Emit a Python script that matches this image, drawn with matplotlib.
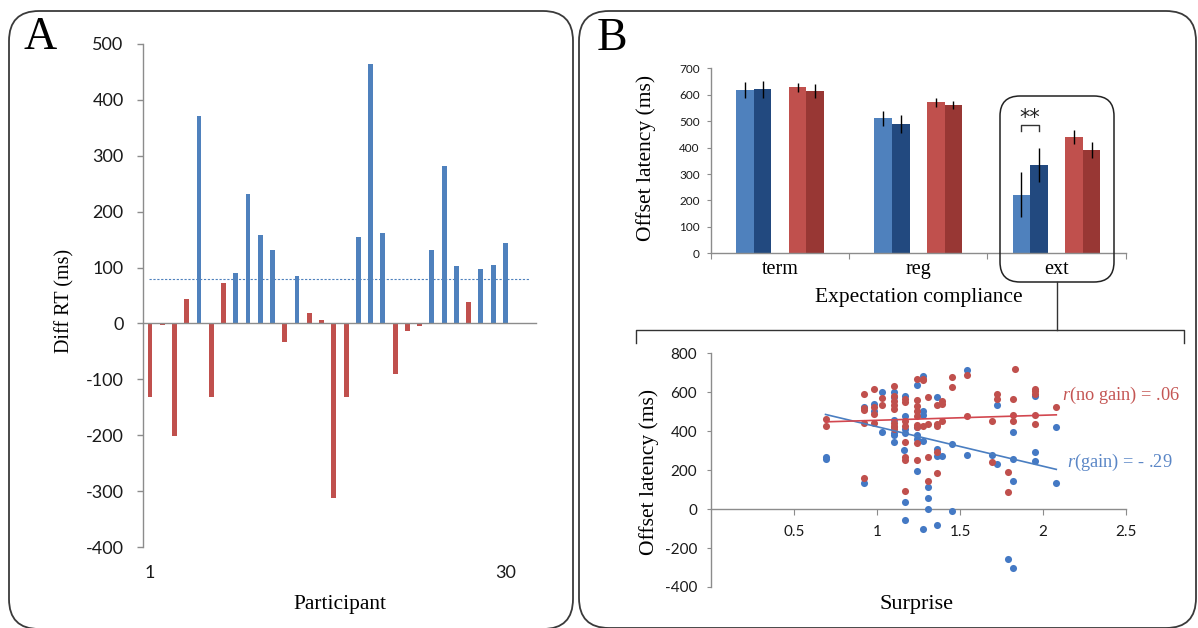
import numpy as np
import matplotlib
matplotlib.use('Agg')
import matplotlib.pyplot as plt
from matplotlib.patches import FancyBboxPatch
import matplotlib.transforms as mtransforms

plt.rcParams['font.family'] = ['Lato', 'DejaVu Sans']
plt.rcParams['axes.unicode_minus'] = False
plt.rcParams['mathtext.fontset'] = 'custom'
plt.rcParams['mathtext.rm'] = 'Liberation Serif'
plt.rcParams['mathtext.it'] = 'Liberation Serif:italic'

SERIF = 'Liberation Serif'
BLUE = '#4F81BD'
DARK_BLUE = '#22497F'
RED = '#C0504D'
DARK_RED = '#983734'
SPINE = '#8C8C8C'

# ---- panel A: per-participant difference in RT ----
participants = list(range(1, 31))
diff_rt = [-132, -2, -202, 43, 371, -132, 73, 91, 231, 158,
           132, -34, 84, 18, 7, -312, -132, 154, 465, 162,
           -90, -14, -5, 131, 282, 103, 39, 97, 104, 144]
diff_threshold = 79

# ---- panel B top: offset latency per expectation compliance ----
conditions = ['term', 'reg', 'ext']
gain_light = [618, 511, 222]
gain_light_err = [30, 28, 85]
gain_dark = [620, 489, 334]
gain_dark_err = [32, 33, 66]
nogain_light = [628, 571, 441]
nogain_light_err = [16, 17, 26]
nogain_dark = [613, 561, 390]
nogain_dark_err = [27, 16, 30]

# ---- panel B bottom: surprise vs offset latency ----
gain_surprise = [0.69, 0.69, 0.92, 0.92, 0.98, 0.98, 1.03, 1.03,
                 1.10, 1.10, 1.10, 1.10, 1.10, 1.10, 1.10,
                 1.17, 1.17, 1.17, 1.17, 1.17, 1.17, 1.16,
                 1.24, 1.24, 1.24, 1.24, 1.24,
                 1.28, 1.28, 1.28, 1.28, 1.31, 1.31, 1.31, 1.28,
                 1.36, 1.36, 1.36, 1.36, 1.39, 1.45, 1.45, 1.54, 1.54,
                 1.69, 1.72, 1.72, 1.79, 1.82, 1.82, 1.82, 1.82,
                 1.95, 1.95, 1.95, 2.08, 2.08]
gain_latency = [268, 259, 525, 134, 541, 505, 601, 395,
                601, 575, 460, 420, 391, 381, 343,
                580, 477, 412, 391, 38, -57, 306,
                639, 420, 378, 361, 197,
                683, 506, 481, 352, 112, 55, 0, -100,
                575, 309, 271, -84, 271, 335, -12, 712, 278,
                278, 532, 232, -254, 398, 258, 146, -300,
                583, 292, 249, 421, 132]

nogain_surprise = [0.69, 0.69, 0.92, 0.92, 0.92, 0.92, 0.92,
                   0.98, 0.98, 0.98, 0.98, 1.03, 1.03,
                   1.10, 1.10, 1.10, 1.10, 1.10, 1.10, 1.10, 1.10,
                   1.17, 1.17, 1.17, 1.17, 1.17, 1.17, 1.17, 1.17,
                   1.24, 1.24, 1.24, 1.24, 1.24, 1.24, 1.24, 1.24, 1.24,
                   1.28, 1.28, 1.28, 1.31, 1.31, 1.31, 1.31,
                   1.36, 1.36, 1.36, 1.36, 1.36, 1.39, 1.39, 1.39,
                   1.45, 1.45, 1.54, 1.54, 1.69, 1.69, 1.72, 1.72,
                   1.79, 1.79, 1.83, 1.82, 1.82, 1.82,
                   1.95, 1.95, 1.95, 1.95, 1.95, 2.08]
nogain_latency = [465, 427, 590, 517, 510, 440, 160,
                  615, 524, 489, 441, 570, 536,
                  632, 580, 553, 532, 512, 443, 429, 412,
                  563, 549, 450, 429, 343, 266, 252, 94,
                  670, 558, 529, 506, 477, 434, 420, 340, 252,
                  670, 661, 429, 575, 438, 266, 146,
                  536, 438, 429, 295, 184, 553, 540, 450,
                  678, 627, 687, 476, 450, 240, 592, 567,
                  189, 86, 718, 563, 481, 450,
                  615, 604, 592, 484, 438, 524]

fit_surprise = [0.69, 2.08]
gain_fit = [486, 204]
nogain_fit = [448, 484]

fig = plt.figure(figsize=(11.98, 6.28), dpi=100)
W, H = 1198, 628


def px_axes(x0, y0, x1, y1):
    # axes from pixel box (top-left origin)
    return fig.add_axes([x0 / W, 1 - y1 / H, (x1 - x0) / W, (y1 - y0) / H])


def style_spines(ax):
    for s in ['top', 'right']:
        ax.spines[s].set_visible(False)
    for s in ['left', 'bottom']:
        ax.spines[s].set_color(SPINE)
        ax.spines[s].set_linewidth(1)
    ax.patch.set_alpha(0)


# ---------- panel A ----------
ax_a = px_axes(143, 44, 536, 547)
style_spines(ax_a)
colors_a = [BLUE if v > diff_threshold else RED for v in diff_rt]
ax_a.bar(participants, diff_rt, width=0.4, color=colors_a, zorder=2)
ax_a.hlines(diff_threshold, participants[0] - 0.1, participants[-1] + 2.0,
            colors=BLUE, linestyles=(0, (2, 1.5)), linewidth=0.8, zorder=1)
ax_a.set_xlim(0.43, 32.5)
ax_a.set_ylim(-400, 500)
ax_a.spines['bottom'].set_position(('data', 0))
ax_a.set_yticks(range(-400, 501, 100))
ax_a.tick_params(axis='y', length=4, width=1, color=SPINE, pad=10,
                 labelsize=13, labelcolor='#1a1a1a')
ax_a.tick_params(axis='x', length=0, labelbottom=False)
trans_a = mtransforms.blended_transform_factory(ax_a.transData, ax_a.transAxes)
for p in (participants[0], participants[-1]):
    ax_a.text(p, -0.052, str(p), transform=trans_a, ha='center', va='center',
              fontsize=13, color='#1a1a1a')
ax_a.text(0.5, -0.115, 'Participant', transform=ax_a.transAxes, ha='center',
          va='center', fontsize=15.5, family=SERIF)
ax_a.text(-0.198, 0.49, 'Diff RT (ms)', transform=ax_a.transAxes, rotation=90,
          ha='center', va='center', fontsize=14.5, family=SERIF)

# ---------- panel B top ----------
ax_b1 = px_axes(711, 68.3, 1125.7, 253.3)
style_spines(ax_b1)
w = 0.127
centers = np.arange(len(conditions)) + 0.5
err_kw = dict(ecolor='black', elinewidth=1, capsize=0)
ax_b1.bar(centers - 2 * w, gain_light, w, yerr=gain_light_err, color=BLUE, error_kw=err_kw)
ax_b1.bar(centers - w, gain_dark, w, yerr=gain_dark_err, color=DARK_BLUE, error_kw=err_kw)
ax_b1.bar(centers + w, nogain_light, w, yerr=nogain_light_err, color=RED, error_kw=err_kw)
ax_b1.bar(centers + 2 * w, nogain_dark, w, yerr=nogain_dark_err, color=DARK_RED, error_kw=err_kw)
ax_b1.set_xlim(0, len(conditions))
ax_b1.set_ylim(0, 700)
ax_b1.set_yticks(range(0, 701, 100))
ax_b1.set_xticks(np.arange(len(conditions) + 1))
ax_b1.tick_params(axis='x', length=4, color=SPINE, labelbottom=False)
ax_b1.tick_params(axis='y', length=3, color=SPINE, pad=5, labelsize=8.5,
                  labelcolor='#1a1a1a')
trans_b1 = mtransforms.blended_transform_factory(ax_b1.transData, ax_b1.transAxes)
for c, name in zip(centers, conditions):
    ax_b1.text(c, -0.085, name, transform=trans_b1, ha='center', va='center',
               fontsize=14.5, family=SERIF)
ax_b1.text(0.5, -0.24, 'Expectation compliance', transform=ax_b1.transAxes,
           ha='center', va='center', fontsize=15.5, family=SERIF)
ax_b1.text(-0.157, 0.515, 'Offset latency (ms)', transform=ax_b1.transAxes,
           rotation=90, ha='center', va='center', fontsize=15.5, family=SERIF)
# significance bracket for ext gain pair
bx1, bx2 = centers[2] - 2 * w, centers[2] - w
ax_b1.plot([bx1, bx1, bx2, bx2], [463, 485, 485, 463], color='#333333', lw=1)
ax_b1.text((bx1 + bx2) / 2, 512, '**', ha='center', va='center', fontsize=15,
           family='DejaVu Sans', color='#222222')

# ---------- panel B bottom ----------
ax_b2 = px_axes(711, 353.3, 1126, 587)
style_spines(ax_b2)
ax_b2.scatter(gain_surprise, gain_latency, s=26, color='#4479C4', zorder=3, linewidths=0)
ax_b2.scatter(nogain_surprise, nogain_latency, s=26, color=RED, zorder=3, linewidths=0)
ax_b2.plot(fit_surprise, gain_fit, color='#4A7EC1', lw=1.2, zorder=4)
ax_b2.plot(fit_surprise, nogain_fit, color='#D2474F', lw=1.2, zorder=4)
ax_b2.set_xlim(0, 2.5)
ax_b2.set_ylim(-400, 800)
ax_b2.spines['bottom'].set_position(('data', 0))
ax_b2.set_xticks([0.5, 1, 1.5, 2, 2.5])
ax_b2.set_xticklabels(['0.5', '1', '1.5', '2', '2.5'])
ax_b2.set_yticks(range(-400, 801, 200))
ax_b2.tick_params(axis='x', length=4, color=SPINE, pad=7.5, labelsize=11,
                  labelcolor='#1a1a1a')
ax_b2.tick_params(axis='y', length=3, color=SPINE, pad=7, labelsize=11,
                  labelcolor='#1a1a1a')
ax_b2.text(0.494, -0.077, 'Surprise', transform=ax_b2.transAxes, ha='center',
           va='center', fontsize=16, family=SERIF)
ax_b2.text(-0.149, 0.492, 'Offset latency (ms)', transform=ax_b2.transAxes,
           rotation=90, ha='center', va='center', fontsize=15.5, family=SERIF)
ax_b2.text(2.115, 586, r'$\it{r}$(no gain) = .06', ha='left', va='center',
           fontsize=13.2, family=SERIF, color='#C45553', clip_on=False)
ax_b2.text(2.145, 241, r'$\it{r}$(gain) = - .29', ha='left', va='center',
           fontsize=13.2, family=SERIF, color='#5A86C6', clip_on=False)

# ---------- overlay: frames, letters, connectors ----------
ax_o = fig.add_axes([0, 0, 1, 1], zorder=10)
ax_o.set_xlim(0, W)
ax_o.set_ylim(H, 0)
ax_o.axis('off')
ax_o.patch.set_alpha(0)
frame_kw = dict(boxstyle='round,pad=0,rounding_size=30', fill=False,
                edgecolor='#3a3a3a', linewidth=1.3)
ax_o.add_patch(FancyBboxPatch((9, 11), 564, 618, **frame_kw))
ax_o.add_patch(FancyBboxPatch((579, 11), 617, 617, **frame_kw))
ax_o.add_patch(FancyBboxPatch((1000, 96), 114, 186, boxstyle='round,pad=0,rounding_size=20',
                              fill=False, edgecolor='#222222', linewidth=1.1))
ax_o.plot([1057, 1057], [282, 330], color='#333333', lw=1)
ax_o.plot([636, 636, 1184, 1184], [343, 330, 330, 343], color='#333333', lw=1)
ax_o.text(40, 38, 'A', ha='center', va='center', fontsize=33, family=SERIF)
ax_o.text(612, 39, 'B', ha='center', va='center', fontsize=33, family=SERIF)

fig.savefig('out.png', dpi=100)
